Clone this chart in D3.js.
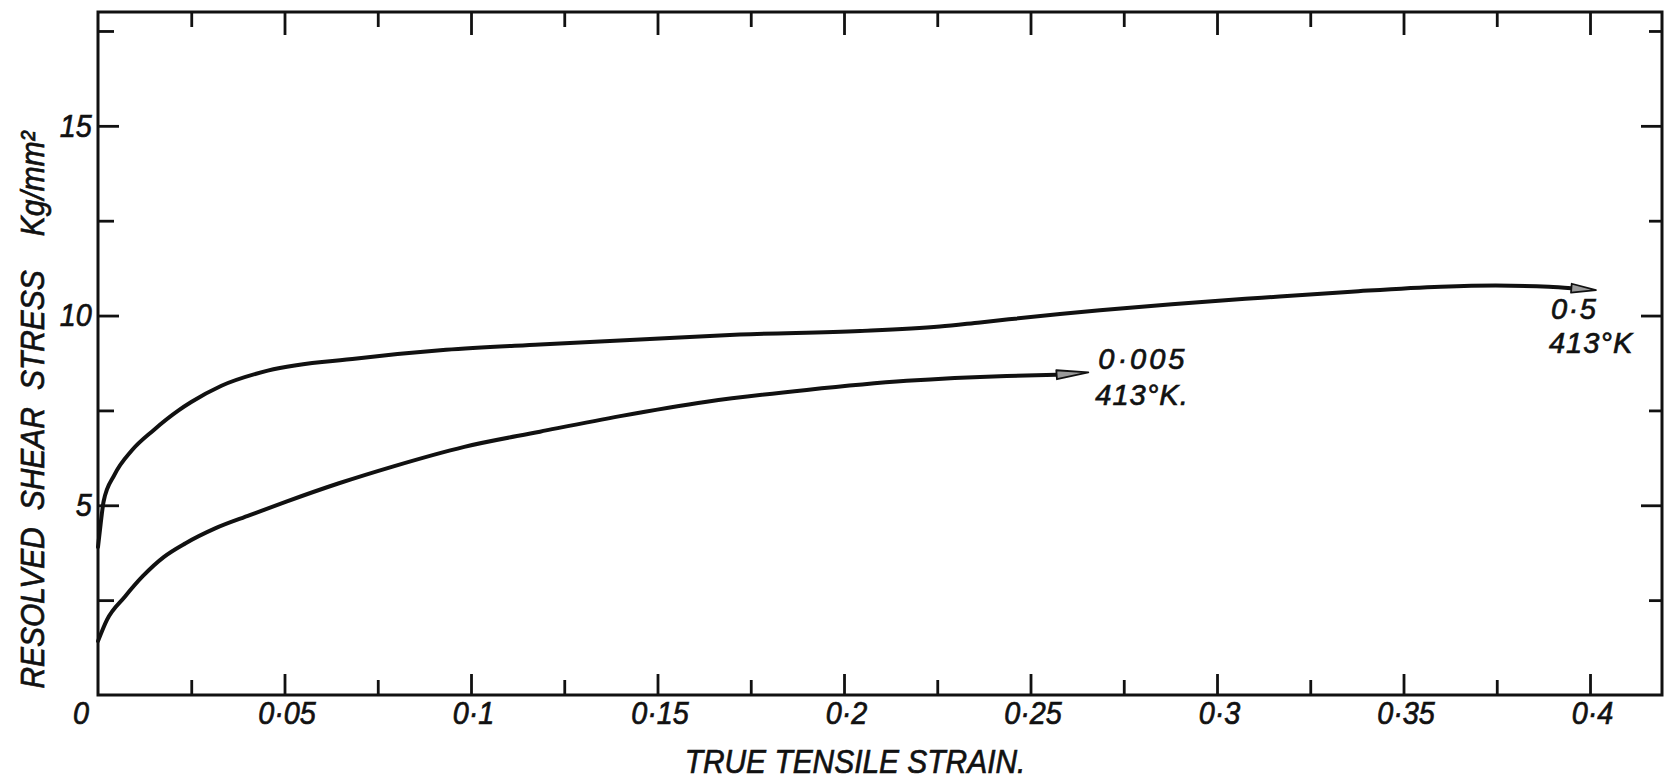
<!DOCTYPE html>
<html>
<head>
<meta charset="utf-8">
<script src="https://d3js.org/d3.v7.min.js"></script>
<style>
body { margin: 0; background: #fff; }
text { font-family: "Liberation Sans", Arial, sans-serif; font-style: italic; fill: #111; stroke: #111; stroke-width: 0.7px; }
</style>
</head>
<body>
<div id="viz"></div>
<script>
// curve for strain rate 0.5 at 413 K  (strain, stress in Kg/mm2)
var strain_fast = [0, 0.0007, 0.0015, 0.0044, 0.0091, 0.0149, 0.0216, 0.025, 0.0331, 0.0455,
    0.0694, 0.0933, 0.1185, 0.1453, 0.1721, 0.2043, 0.2257, 0.2365, 0.2579, 0.2686,
    0.2879, 0.312, 0.336, 0.36, 0.3747, 0.389, 0.395];
var stress_fast = [3.9, 4.5, 5.1, 5.8, 6.45, 6.98, 7.5, 7.72, 8.15, 8.55,
    8.87, 9.1, 9.24, 9.37, 9.5, 9.59, 9.71, 9.82, 10.04, 10.14,
    10.3, 10.47, 10.63, 10.76, 10.79, 10.76, 10.72];
var tip_fast = [0.4016, 10.67];

// curve for strain rate 0.005 at 413 K
var strain_slow = [0, 0.0024, 0.0072, 0.012, 0.0177, 0.0235, 0.0314, 0.0407, 0.0503, 0.0646,
    0.079, 0.0982, 0.1185, 0.14, 0.1632, 0.19, 0.2168, 0.2436, 0.257];
var stress_slow = [1.42, 1.98, 2.59, 3.13, 3.64, 4.0, 4.39, 4.74, 5.09, 5.58,
    6.02, 6.54, 6.94, 7.35, 7.73, 8.04, 8.28, 8.41, 8.44];
var tip_slow = [0.2655, 8.5];

var x_major = [0.05, 0.1, 0.15, 0.2, 0.25, 0.3, 0.35, 0.4];
var x_labels = ['0·05', '0·1', '0·15', '0·2', '0·25', '0·3', '0·35', '0·4'];
var x_minor = [0.025, 0.075, 0.125, 0.175, 0.225, 0.275, 0.325, 0.375];
var y_major = [5, 10, 15];
var y_labels = ['5', '10', '15'];
var y_minor = [2.5, 7.5, 12.5, 17.5];

var margin = {top: 12, right: 2, bottom: 85, left: 98};
var width = 1664 - margin.left - margin.right;
var height = 780 - margin.top - margin.bottom;

var root = d3.select('#viz').append('svg')
    .attr('width', 1664)
    .attr('height', 780);
var svg = root.append('g')
    .attr('transform', 'translate(' + margin.left + ',' + margin.top + ')');

var x = d3.scaleLinear().domain([0, 0.4193]).range([0, width]);
var y = d3.scaleLinear().domain([0, 18]).range([height, 0]);

// the lettering on the plate is tall and narrow: bigger font squeezed sideways
var label_size = '32px';
var squeeze = 0.9;

// ticks all point inwards, the 0.05 / 5 ones longer
function ticks(axis, vals, size, cls, labels) {
    var a = axis.tickValues(vals).tickSize(-size)
        .tickFormat(labels ? function(d, i) { return labels[i]; } : '');
    var g = svg.append('g').attr('class', cls).call(a);
    g.select('.domain').remove();
    g.selectAll('line').attr('stroke', '#111').attr('stroke-width', 2.8);
    return g;
}

var xb = ticks(d3.axisBottom(x).tickPadding(6), x_major, 21, 'x-axis', x_labels)
    .attr('transform', 'translate(0,' + height + ')');
xb.selectAll('text')
    .style('font-size', label_size)
    .attr('fill', '#111')
    .attr('transform', 'translate(2,0) scale(' + squeeze + ',1)');
ticks(d3.axisBottom(x), x_minor, 15, 'x-minor').attr('transform', 'translate(0,' + height + ')');
ticks(d3.axisTop(x), x_major, 23, 'x-top');
ticks(d3.axisTop(x), x_minor, 15, 'x-top-minor');

var yl = ticks(d3.axisLeft(y).tickPadding(7), y_major, 21, 'y-axis', y_labels);
yl.selectAll('text')
    .style('font-size', label_size)
    .attr('fill', '#111')
    .attr('transform', 'scale(' + squeeze + ',1)');
ticks(d3.axisLeft(y), y_minor, 16, 'y-minor');
ticks(d3.axisRight(y), y_major, 21, 'y-right').attr('transform', 'translate(' + width + ',0)');
ticks(d3.axisRight(y), y_minor, 13, 'y-right-minor').attr('transform', 'translate(' + width + ',0)');

svg.append('rect')
    .attr('width', width)
    .attr('height', height)
    .attr('fill', 'none')
    .attr('stroke', '#111')
    .attr('stroke-width', 3);

// single 0 in the corner
svg.append('text')
    .attr('transform', 'translate(' + (x(0) - 17) + ',' + (height + 29) + ') scale(' + squeeze + ',1)')
    .attr('text-anchor', 'middle')
    .style('font-size', label_size)
    .text('0');

var valueline = d3.line()
    .x(function(d) { return x(d[0]); })
    .y(function(d) { return y(d[1]); })
    .curve(d3.curveMonotoneX);

function draw_curve(xs, ys, tip) {
    var pts = xs.map(function(v, i) { return [v, ys[i]]; });
    svg.append('path')
        .attr('d', valueline(pts))
        .attr('fill', 'none')
        .attr('stroke', '#111')
        .attr('stroke-width', 4)
        .attr('stroke-linecap', 'round');
    // narrow arrow head from last point to the tip
    var b = pts[pts.length - 1];
    var bx = x(b[0]), by = y(b[1]), tx = x(tip[0]), ty = y(tip[1]);
    var len = Math.sqrt((tx - bx) * (tx - bx) + (ty - by) * (ty - by));
    var nx = -(ty - by) / len * 4.5, ny = (tx - bx) / len * 4.5;
    svg.append('path')
        .attr('d', 'M' + tx + ',' + ty + 'L' + (bx + nx) + ',' + (by + ny) +
            'L' + (bx - nx) + ',' + (by - ny) + 'Z')
        .attr('fill', '#9a9a9a')
        .attr('stroke', '#111')
        .attr('stroke-width', 1.8)
        .attr('stroke-linejoin', 'round');
}

draw_curve(strain_fast, stress_fast, tip_fast);
draw_curve(strain_slow, stress_slow, tip_slow);

// labels at the arrow tips
function note(tip, dx, dy, lines, spacing) {
    lines.forEach(function(t, i) {
        svg.append('text')
            .attr('x', x(tip[0]) + dx[i])
            .attr('y', y(tip[1]) + dy[i])
            .style('font-size', '29px')
            .style('letter-spacing', spacing[i] + 'px')
            .text(t);
    });
}
note(tip_slow, [10, 7], [-3, 33], ['0·005', '413°K.'], [3, 1]);
note(tip_fast, [-45, -47], [29, 63], ['0·5', '413°K'], [1.5, 1]);

root.append('text')
    .attr('transform', 'translate(855,773) scale(0.88,1)')
    .attr('text-anchor', 'middle')
    .style('font-size', '34px')
    .text('TRUE TENSILE STRAIN.');

root.append('text')
    .attr('transform', 'translate(44,410) rotate(-90) scale(0.88,1)')
    .attr('text-anchor', 'middle')
    .style('font-size', '34px')
    .style('white-space', 'pre')
    .style('word-spacing', '10px')
    .text('RESOLVED SHEAR STRESS  Kg/mm²');
</script>
</body>
</html>
